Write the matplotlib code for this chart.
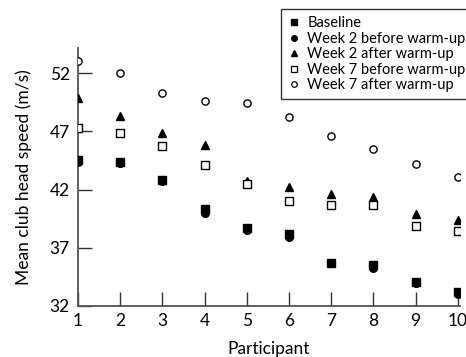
import matplotlib
matplotlib.use("Agg")
import matplotlib.pyplot as plt
from matplotlib.lines import Line2D

participants = [1, 2, 3, 4, 5, 6, 7, 8, 9, 10]
baseline = [44.5, 44.4, 42.8, 40.3, 38.7, 38.2, 35.7, 35.55, 34.1, 33.2]
week2_before = [44.35, 44.3, 42.7, 40.0, 38.5, 37.95, 35.7, 35.3, 33.95, 33.05]
week2_after = [49.85, 48.3, 46.9, 45.8, 42.7, 42.2, 41.6, 41.4, 39.9, 39.4]
week7_before = [47.3, 46.85, 45.7, 44.1, 42.45, 41.05, 40.7, 40.65, 38.9, 38.45]
week7_after = [53.0, 52.0, 50.3, 49.6, 49.45, 48.25, 46.6, 45.45, 44.2, 43.05]
labels = ["Baseline", "Week 2 before warm-up", "Week 2 after warm-up",
          "Week 7 before warm-up", "Week 7 after warm-up"]
yticks = [32, 37, 42, 47, 52]

plt.rcParams['font.family'] = ['Lato', 'DejaVu Sans']

fig = plt.figure(figsize=(4.66, 3.57), dpi=100)
ax = fig.add_axes([78/466, 1 - 306/357, (459.5-78)/466, (306-47.5)/357])

ms = 5.2
ax.plot(participants, week2_before, 'o', color='black', ms=ms+0.3, label=labels[1], zorder=3)
ax.plot(participants, baseline, 's', color='black', ms=ms, label=labels[0], zorder=3)
ax.plot(participants, week2_after, '^', color='black', ms=ms+0.5, label=labels[2], zorder=3)
ax.plot(participants, week7_before, 's', mfc='white', mec='black', mew=1.0, ms=ms, label=labels[3], zorder=3)
ax.plot(participants, week7_after, 'o', mfc='white', mec='black', mew=1.0, ms=ms, label=labels[4], zorder=3)

ax.set_xlim(1, 10.04)
ax.set_ylim(32, 54.2)
ax.set_xticks(participants)
ax.set_yticks(yticks)
for s in ['top', 'right']:
    ax.spines[s].set_visible(False)
for s in ['left', 'bottom']:
    ax.spines[s].set_color('#555555')
    ax.spines[s].set_linewidth(1.3)
ax.tick_params(direction='in', length=10, width=1.0, color='#333333', labelsize=12.5, pad=5)
ax.tick_params(axis='y', pad=6)

ax.set_xlabel("Participant", fontsize=12.5, labelpad=9)
ax.set_ylabel("Mean club head speed (m/s)", fontsize=12.5)
ax.yaxis.set_label_coords(-46/381.5, 0.5)

handles = [Line2D([], [], ls='none', marker='s', color='black', ms=4),
           Line2D([], [], ls='none', marker='o', color='black', ms=4),
           Line2D([], [], ls='none', marker='^', color='black', ms=4.5),
           Line2D([], [], ls='none', marker='s', mfc='white', mec='black', mew=0.9, ms=4),
           Line2D([], [], ls='none', marker='o', mfc='white', mec='black', mew=0.9, ms=4)]
leg = fig.legend(handles, labels, loc='upper left', bbox_to_anchor=(281/466, 1 - 9/357),
                 fontsize=10.5, frameon=True, fancybox=False, edgecolor='black',
                 labelspacing=0.1, handlelength=0.8, handletextpad=0.5,
                 borderpad=0.5, borderaxespad=0)
leg.get_frame().set_linewidth(1.0)

fig.savefig("out.png", dpi=100)
